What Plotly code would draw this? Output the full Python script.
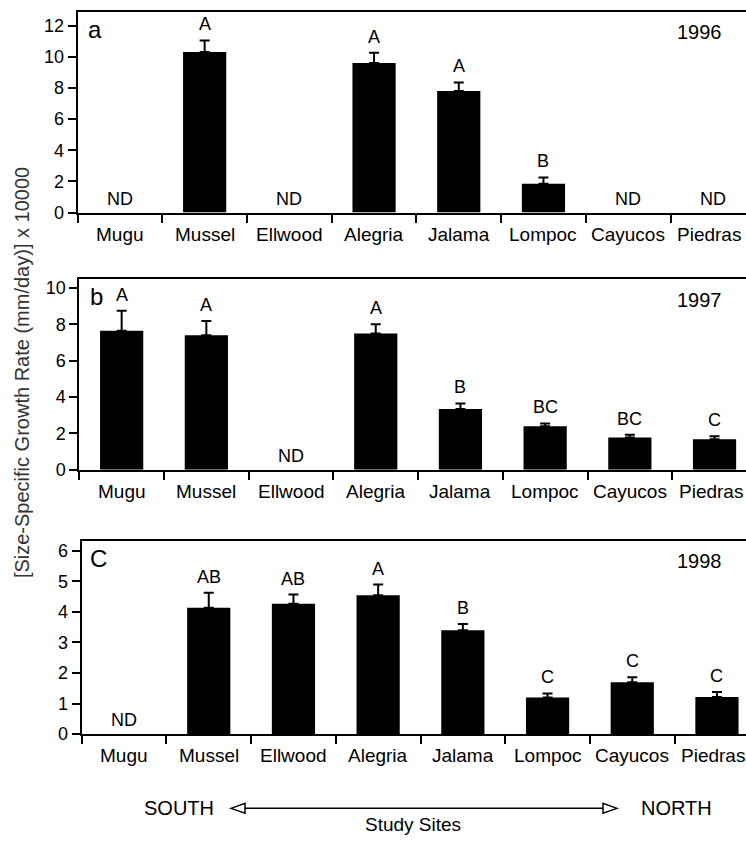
import plotly.graph_objects as go

# ---------------- data ----------------
sites = ["Mugu", "Mussel", "Ellwood", "Alegria", "Jalama", "Lompoc", "Cayucos", "Piedras"]
years = ["1996", "1997", "1998"]
panel_tags = ["a", "b", "C"]

growth_1996 = [None, 10.3, None, 9.6, 7.8, 1.85, None, None]
se_1996 = [None, 0.75, None, 0.65, 0.55, 0.4, None, None]
groups_1996 = ["ND", "A", "ND", "A", "A", "B", "ND", "ND"]

growth_1997 = [7.65, 7.4, None, 7.5, 3.35, 2.4, 1.77, 1.68]
se_1997 = [1.1, 0.78, None, 0.5, 0.3, 0.15, 0.16, 0.16]
groups_1997 = ["A", "A", "ND", "A", "B", "BC", "BC", "C"]

growth_1998 = [None, 4.14, 4.27, 4.55, 3.4, 1.2, 1.7, 1.21]
se_1998 = [None, 0.49, 0.3, 0.35, 0.21, 0.13, 0.16, 0.17]
groups_1998 = ["ND", "AB", "AB", "A", "B", "C", "C", "C"]

y_max = [12.9, 10.49, 6.34]
y_dtick = [2, 2, 1]

# ---------------- layout geometry (pixels) ----------------
W, H = 746, 845
panel_left = [77.6, 79.3, 81.7]
panel_top = [10.7, 281.7, 546.7]
panel_bottom = [214.3, 475.0, 742.7]
cat_px = 84.7


def px(x):
    return x / W


def py(y):
    return 1 - y / H


FONT = "Liberation Sans, Arial, sans-serif"
fig = go.Figure()

series = [(growth_1996, se_1996, groups_1996),
          (growth_1997, se_1997, groups_1997),
          (growth_1998, se_1998, groups_1998)]

annotations = []
for i, (vals, errs, grps) in enumerate(series):
    xa = "x" if i == 0 else f"x{i+1}"
    ya = "y" if i == 0 else f"y{i+1}"
    fig.add_trace(go.Bar(
        x=sites, y=vals, xaxis=xa, yaxis=ya,
        marker=dict(color="black", line=dict(width=0)),
        error_y=dict(type="data", symmetric=False, array=errs,
                     arrayminus=[0 if v is not None else None for v in vals],
                     color="black", thickness=2, width=5),
        showlegend=False,
    ))
    for s, v, e, g in zip(sites, vals, errs, grps):
        if v is None:
            annotations.append(dict(x=s, y=0, xref=xa, yref=ya, text=g, showarrow=False,
                                    xanchor="center", yanchor="middle", yshift=14,
                                    font=dict(family=FONT, size=18, color="black")))
        else:
            annotations.append(dict(x=s, y=v + e, xref=xa, yref=ya, text=g, showarrow=False,
                                    xanchor="center", yanchor="middle", yshift=16,
                                    font=dict(family=FONT, size=18, color="black")))
    # category labels under the axis
    for k, s in enumerate(sites):
        annotations.append(dict(x=s, y=py(panel_bottom[i] + 22), xref=xa, yref="paper", text=s,
                                showarrow=False, xanchor="center", yanchor="middle",
                                xshift=(-4 if k == len(sites) - 1 else 0),
                                font=dict(family=FONT, size=19, color="black")))
    # panel tag and year
    annotations.append(dict(x=px(panel_left[i] + 17), y=py(panel_top[i] + 18), xref="paper", yref="paper",
                            text=panel_tags[i], showarrow=False, xanchor="center", yanchor="middle",
                            font=dict(family=FONT, size=24, color="black")))
    annotations.append(dict(x=px(699), y=py(panel_top[i] + 21), xref="paper", yref="paper",
                            text=years[i], showarrow=False, xanchor="center", yanchor="middle",
                            font=dict(family=FONT, size=20, color="black")))

    left = panel_left[i]
    xaxis = dict(
        type="category", domain=[px(left), 1.0],
        range=[-0.5, -0.5 + (W - left) / cat_px],
        anchor=ya, showline=True, linecolor="black", linewidth=2, mirror=True,
        ticks="outside", tickson="boundaries", ticklen=8, tickwidth=1.5, tickcolor="black",
        showticklabels=False, showgrid=False, zeroline=False, fixedrange=True,
    )
    yaxis = dict(
        domain=[py(panel_bottom[i]), py(panel_top[i])],
        range=[0, y_max[i]], dtick=y_dtick[i], anchor=xa,
        showline=True, linecolor="black", linewidth=2, mirror=False,
        ticks="outside", ticklen=8, tickwidth=1.5, tickcolor="black",
        tickfont=dict(family=FONT, size=18, color="black"), showgrid=False, zeroline=False,
        fixedrange=True,
    )
    fig.layout[("xaxis" if i == 0 else f"xaxis{i+1}")] = xaxis
    fig.layout[("yaxis" if i == 0 else f"yaxis{i+1}")] = yaxis

# y-axis title
annotations.append(dict(x=px(22), y=py(377), xref="paper", yref="paper",
                        text="[Size-Specific Growth Rate (mm/day)] x 10000", textangle=-90,
                        showarrow=False, xanchor="center", yanchor="middle",
                        font=dict(family=FONT, size=20, color="#333333")))
# direction labels
annotations.append(dict(x=px(179), y=py(818), xref="paper", yref="paper", text="SOUTH",
                        showarrow=False, xanchor="center", yanchor="middle",
                        font=dict(family=FONT, size=20, color="black")))
annotations.append(dict(x=px(676), y=py(818), xref="paper", yref="paper", text="NORTH",
                        showarrow=False, xanchor="center", yanchor="middle",
                        font=dict(family=FONT, size=20, color="black")))
annotations.append(dict(x=px(413), y=py(834), xref="paper", yref="paper", text="Study Sites",
                        showarrow=False, xanchor="center", yanchor="middle",
                        font=dict(family=FONT, size=19, color="black")))

ay = 818
shapes = [
    dict(type="line", xref="paper", yref="paper", x0=px(245), x1=px(603), y0=py(ay), y1=py(ay),
         line=dict(color="black", width=1.5)),
    dict(type="path", xref="paper", yref="paper",
         path=f"M {px(231)},{py(ay)} L {px(245)},{py(ay-5)} L {px(245)},{py(ay+5)} Z",
         line=dict(color="black", width=1.5), fillcolor="white"),
    dict(type="path", xref="paper", yref="paper",
         path=f"M {px(617)},{py(ay)} L {px(603)},{py(ay-5)} L {px(603)},{py(ay+5)} Z",
         line=dict(color="black", width=1.5), fillcolor="white"),
]

fig.update_layout(
    width=W, height=H, margin=dict(l=0, r=0, t=0, b=0),
    paper_bgcolor="white", plot_bgcolor="white",
    bargap=0.49, annotations=annotations, shapes=shapes,
    font=dict(family=FONT, color="black"),
)

fig.write_html("out.html", config={"displayModeBar": False},
               post_script="document.body.style.margin='0';")
